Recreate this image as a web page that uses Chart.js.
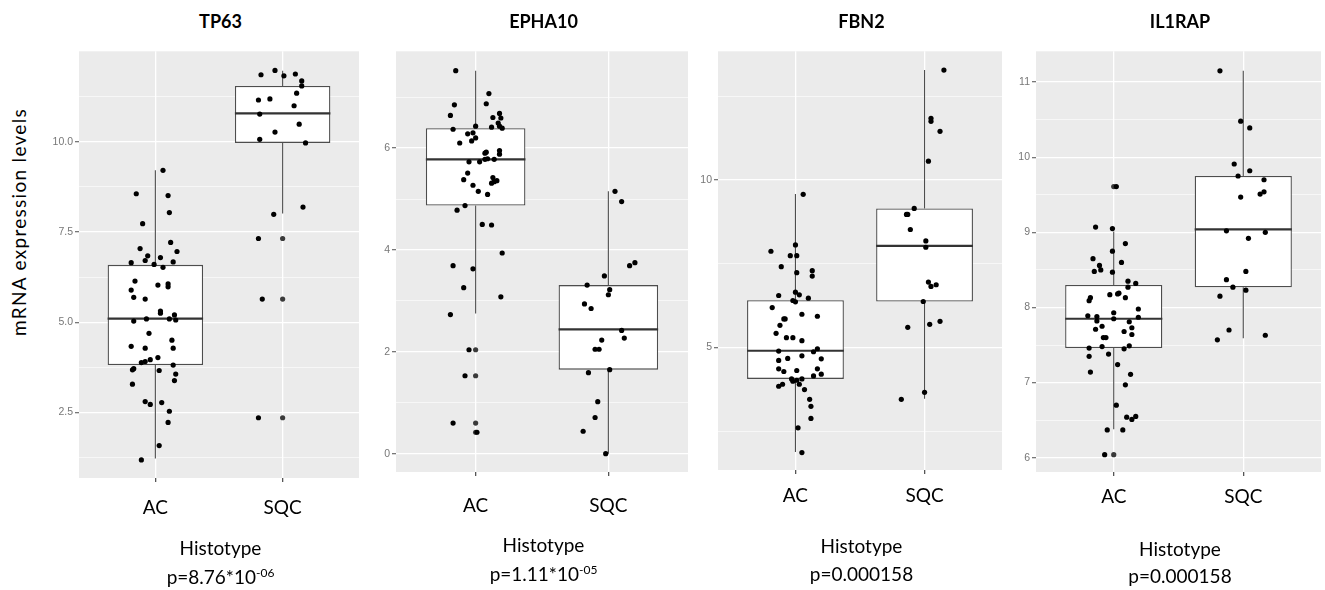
<!DOCTYPE html>
<html>
<head>
<meta charset="utf-8">
<script src="https://cdn.jsdelivr.net/npm/chart.js@4"></script>
<style>
  body { margin:0; background:#fff; width:1325px; height:590px; position:relative; overflow:hidden; font-family:Lato, "Open Sans", sans-serif; color:#000; }
  .panel { position:absolute; }
  .title { position:absolute; font-weight:bold; font-size:18px; line-height:22px; transform:translateX(-50%); white-space:nowrap; }
  .lab { position:absolute; font-size:19px; line-height:22px; transform:translateX(-50%); white-space:nowrap; }
  .lab sup { font-size:12px; vertical-align:7px; line-height:0; }
  #ytitle { position:absolute; left:18px; top:222px; font-size:19px; letter-spacing:1.3px; white-space:nowrap; transform:translate(-50%,-50%) rotate(-90deg); }
</style>
</head>
<body>
<div id="ytitle">mRNA expression levels</div>
<script>
// ---- data ----
const GENES = ['TP63', 'EPHA10', 'FBN2', 'IL1RAP'];
const CATEGORIES = ['AC', 'SQC'];
const AXIS_TITLE = 'Histotype';
const P_TEXT = ['p=8.76*10<sup>-06</sup>', 'p=1.11*10<sup>-05</sup>', 'p=0.000158', 'p=0.000158'];

// box stats per category: [lower whisker, q1, median, q3, upper whisker]
const TP63_BOX   = [[1.22, 3.81, 5.10, 6.59, 9.21], [8.01, 9.97, 10.79, 11.55, 11.97]];
const EPHA10_BOX = [[2.75, 4.87, 5.78, 6.39, 7.52], [0.00, 1.65, 2.44, 3.31, 5.15]];
const FBN2_BOX   = [[1.88, 4.06, 4.90, 6.41, 9.58], [3.47, 6.37, 8.03, 9.15, 13.28]];
const IL1RAP_BOX = [[6.38, 7.46, 7.85, 8.30, 9.01], [7.59, 8.27, 9.04, 9.75, 11.15]];

// jittered points (y values and horizontal jitter in category units)
const TP63_AC_Y = [9.21,8.56,8.51,8.04,7.73,7.21,7.04,6.96,6.84,6.79,6.71,6.67,6.65,6.60,6.52,6.14,6.03,6.06,5.98,5.89,5.69,5.64,5.31,5.25,5.20,5.09,5.09,5.03,5.06,4.69,4.50,4.33,4.28,4.28,4.02,3.96,3.91,3.88,3.81,3.71,3.68,3.66,3.56,3.38,3.28,2.80,2.72,2.77,2.53,2.22,1.58,1.18];
const TP63_AC_JIT = [0.06,-0.15,0.10,0.11,-0.10,0.12,-0.12,0.17,-0.06,0.04,-0.08,0.14,-0.19,-0.01,0.06,-0.16,0.02,0.10,0.10,-0.19,-0.17,-0.08,0.04,0.04,0.15,-0.07,0.11,-0.17,0.16,-0.05,0.13,-0.19,-0.08,0.14,0.02,-0.04,-0.08,-0.11,0.14,-0.17,-0.18,0.03,0.16,0.15,-0.18,-0.08,-0.04,0.05,0.11,0.10,0.03,-0.11];
const TP63_SQC_Y = [11.98,11.86,11.83,11.88,11.69,11.55,11.35,11.16,11.19,11.00,10.77,10.49,10.27,10.07,9.97,8.19,7.99,7.32,5.64,2.35];
const TP63_SQC_JIT = [-0.06,-0.17,0.01,0.10,0.15,0.15,0.11,-0.19,-0.10,0.09,-0.18,0.13,-0.06,-0.18,0.18,0.16,-0.07,-0.19,-0.16,-0.19];
const TP63_AC_OUT = [];
const TP63_SQC_OUT = [7.32, 5.64, 2.35];

const EPHA10_AC_Y = [7.52,7.07,6.85,6.87,6.64,6.60,6.68,6.59,6.49,6.43,6.43,6.41,6.39,6.37,6.28,6.30,6.20,6.14,6.10,5.92,5.90,5.95,5.88,5.73,5.73,5.78,5.79,5.78,5.51,5.38,5.42,5.34,5.31,5.36,5.27,5.15,5.09,4.87,4.78,4.50,4.49,3.94,3.69,3.63,3.26,3.08,2.73,2.04,1.53,0.60,0.42];
const EPHA10_AC_JIT = [-0.15,0.10,-0.16,0.08,-0.19,0.13,0.18,0.19,0.17,0.18,0.00,0.12,0.20,-0.17,-0.06,-0.02,0.00,-0.03,-0.12,0.08,0.07,0.18,0.18,-0.05,0.03,0.07,0.09,0.14,-0.06,-0.09,0.13,0.14,0.12,0.16,-0.02,0.02,0.09,-0.08,-0.14,0.05,0.12,0.20,-0.17,-0.02,-0.09,0.19,-0.19,-0.05,-0.08,-0.17,0.01];
const EPHA10_SQC_Y = [5.15,4.95,3.75,3.69,3.49,3.31,3.22,3.12,2.94,2.85,2.42,2.27,2.23,2.05,2.05,1.65,1.59,1.02,0.71,0.44,0.00];
const EPHA10_SQC_JIT = [0.05,0.10,0.20,0.16,-0.03,-0.16,0.01,0.00,-0.18,-0.13,0.10,0.12,-0.05,-0.10,-0.07,0.01,-0.15,-0.08,-0.10,-0.19,-0.02];
const EPHA10_AC_OUT = [2.04, 1.53, 0.60, 0.42];
const EPHA10_SQC_OUT = [];

const FBN2_AC_Y = [9.57,8.06,7.87,7.74,7.74,7.41,7.29,7.13,7.23,6.65,6.57,6.55,6.47,6.40,6.36,6.19,5.99,5.93,5.85,5.85,5.66,5.42,5.29,5.29,5.20,4.96,4.89,4.87,4.75,4.67,4.66,4.61,4.36,4.36,4.28,4.31,4.20,4.15,4.06,4.06,3.99,4.02,3.90,3.84,3.90,3.74,3.45,3.24,2.88,2.60,1.86];
const FBN2_AC_JIT = [0.06,0.00,-0.19,-0.04,0.01,-0.11,0.13,0.13,0.01,0.00,0.03,-0.13,0.10,-0.02,0.00,-0.18,0.05,0.17,-0.08,-0.09,-0.12,-0.15,-0.07,-0.02,0.05,0.17,-0.13,0.14,0.05,-0.06,0.20,-0.13,-0.13,0.17,-0.09,0.01,0.20,0.14,-0.03,0.05,-0.02,0.01,-0.10,-0.13,0.03,0.07,0.11,0.12,0.12,0.02,0.05];
const FBN2_SQC_Y = [13.28,11.84,11.75,11.45,10.56,9.15,8.97,8.97,8.52,8.18,7.99,6.95,6.87,6.82,6.37,5.78,5.69,5.60,3.66,3.45];
const FBN2_SQC_JIT = [0.15,0.05,0.05,0.12,0.03,-0.08,-0.14,-0.13,-0.11,0.01,0.01,0.03,0.09,0.05,-0.01,0.12,0.04,-0.13,0.00,-0.18];
const FBN2_AC_OUT = [];
const FBN2_SQC_OUT = [];

const IL1RAP_AC_Y = [9.61,9.07,9.05,8.85,8.75,8.65,8.60,8.56,8.48,8.50,8.47,8.35,8.32,8.27,8.18,8.19,8.17,8.13,8.13,8.09,7.98,7.93,7.89,7.88,7.87,7.82,7.85,7.81,7.75,7.71,7.73,7.68,7.64,7.60,7.60,7.48,7.49,7.46,7.45,7.38,7.35,7.24,7.14,7.11,6.97,6.70,6.54,6.55,6.51,6.37,6.37,6.04];
const IL1RAP_AC_JIT = [0.02,-0.14,-0.01,0.09,-0.01,-0.16,0.06,-0.11,-0.15,-0.10,-0.01,0.11,0.17,0.11,0.03,0.04,-0.03,-0.18,0.09,-0.19,0.19,0.00,-0.20,-0.13,0.19,-0.13,0.00,0.12,-0.09,-0.14,0.14,0.08,0.14,-0.08,-0.06,-0.09,0.12,-0.19,0.08,-0.04,-0.19,0.03,-0.18,0.13,0.09,0.02,0.10,0.17,0.14,-0.05,0.07,-0.07];
const IL1RAP_SQC_Y = [11.15,10.48,10.39,9.91,9.82,9.75,9.70,9.51,9.54,9.47,9.02,9.00,8.92,8.48,8.37,8.27,8.23,8.15,7.70,7.57,7.63];
const IL1RAP_SQC_JIT = [-0.18,-0.02,0.05,-0.07,0.05,-0.04,0.16,0.13,0.16,-0.02,-0.13,0.17,0.04,0.02,-0.13,-0.08,0.02,-0.18,-0.11,-0.20,0.17];
const IL1RAP_AC_OUT = [9.61, 6.04];
const IL1RAP_SQC_OUT = [];

// y axes: range, labelled ticks, tick labels, minor grid
const TP63_Y_RANGE = [0.68, 12.51];
const TP63_Y_TICKS = [2.5, 5, 7.5, 10];
const TP63_Y_LABELS = ['2.5', '5.0', '7.5', '10.0'];
const TP63_Y_MINOR = [1.25, 3.75, 6.25, 8.75, 11.25];

const EPHA10_Y_RANGE = [-0.36, 7.90];
const EPHA10_Y_TICKS = [0, 2, 4, 6];
const EPHA10_Y_LABELS = ['0', '2', '4', '6'];
const EPHA10_Y_MINOR = [1, 3, 5, 7];

const FBN2_Y_RANGE = [1.34, 13.84];
const FBN2_Y_TICKS = [5, 10];
const FBN2_Y_LABELS = ['5', '10'];
const FBN2_Y_MINOR = [2.5, 7.5, 12.5];

const IL1RAP_Y_RANGE = [5.81, 11.41];
const IL1RAP_Y_TICKS = [6, 7, 8, 9, 10, 11];
const IL1RAP_Y_LABELS = ['6', '7', '8', '9', '10', '11'];
const IL1RAP_Y_MINOR = [6.5, 7.5, 8.5, 9.5, 10.5];

// ---- layout (pixels on the page) ----
const PANEL_BOX = [
    { left: 79,   right: 362,  top: 47, bottom: 478, labelY: 507, histTop: 537, pTop: 566 },
    { left: 396,  right: 691,  top: 47, bottom: 472, labelY: 505, histTop: 534, pTop: 563 },
    { left: 718,  right: 1005, top: 47, bottom: 470, labelY: 495, histTop: 535, pTop: 563 },
    { left: 1036, right: 1324, top: 47, bottom: 472, labelY: 496, histTop: 538, pTop: 565 },
];
const BOX_WIDTH = 0.75;

const PANELS = [
    { box: TP63_BOX, ac: [TP63_AC_Y, TP63_AC_JIT], sqc: [TP63_SQC_Y, TP63_SQC_JIT], out: [TP63_AC_OUT, TP63_SQC_OUT], range: TP63_Y_RANGE, ticks: TP63_Y_TICKS, labels: TP63_Y_LABELS, minor: TP63_Y_MINOR },
    { box: EPHA10_BOX, ac: [EPHA10_AC_Y, EPHA10_AC_JIT], sqc: [EPHA10_SQC_Y, EPHA10_SQC_JIT], out: [EPHA10_AC_OUT, EPHA10_SQC_OUT], range: EPHA10_Y_RANGE, ticks: EPHA10_Y_TICKS, labels: EPHA10_Y_LABELS, minor: EPHA10_Y_MINOR },
    { box: FBN2_BOX, ac: [FBN2_AC_Y, FBN2_AC_JIT], sqc: [FBN2_SQC_Y, FBN2_SQC_JIT], out: [FBN2_AC_OUT, FBN2_SQC_OUT], range: FBN2_Y_RANGE, ticks: FBN2_Y_TICKS, labels: FBN2_Y_LABELS, minor: FBN2_Y_MINOR },
    { box: IL1RAP_BOX, ac: [IL1RAP_AC_Y, IL1RAP_AC_JIT], sqc: [IL1RAP_SQC_Y, IL1RAP_SQC_JIT], out: [IL1RAP_AC_OUT, IL1RAP_SQC_OUT], range: IL1RAP_Y_RANGE, ticks: IL1RAP_Y_TICKS, labels: IL1RAP_Y_LABELS, minor: IL1RAP_Y_MINOR },
];

// grey ggplot panel behind the grid
const panelBg = {
    id: 'panelBg',
    beforeDraw(chart) {
        const { ctx, chartArea: a } = chart;
        ctx.save(); ctx.fillStyle = '#EBEBEB';
        ctx.fillRect(a.left, a.top, a.right - a.left, a.bottom - a.top);
        ctx.restore();
    }
};

function addText(cls, html, x, y) {
    const d = document.createElement('div'); d.className = cls; d.innerHTML = html;
    d.style.left = x + 'px'; d.style.top = y + 'px'; document.body.append(d);
}

function buildPanel(i) {
    const p = PANELS[i], b = PANEL_BOX[i];
    const YW = 45, XH = 70, PADT = 4;
    const cw = b.right - b.left + YW + 1, ch = b.bottom - b.top + PADT + XH;
    const wrap = document.createElement('div'); wrap.className = 'panel';
    wrap.style.left = (b.left - YW) + 'px'; wrap.style.top = (b.top - PADT) + 'px';
    const canv = document.createElement('canvas'); canv.width = cw; canv.height = ch;
    canv.style.width = cw + 'px'; canv.style.height = ch + 'px';
    wrap.append(canv); document.body.append(wrap);

    const cx = (b.left + b.right) / 2;
    addText('title', GENES[i], cx, 10);
    addText('lab', AXIS_TITLE, cx, b.histTop);
    addText('lab', P_TEXT[i], cx, b.pTop);

    const half = BOX_WIDTH / 2;
    const boxes = [], whisk = [], med = [], outs = [], pts = [];
    p.box.forEach((s, k) => {
        const c = k + 1;
        boxes.push({ x: c, y: [s[1], s[3]] });
        whisk.push({ x: c, y: s[0] }, { x: c, y: s[1] }, { x: c, y: null }, { x: c, y: s[3] }, { x: c, y: s[4] }, { x: c, y: null });
        med.push({ x: c - half, y: s[2] }, { x: c + half, y: s[2] }, { x: c, y: null });
        p.out[k].forEach(v => outs.push({ x: c, y: v }));
    });
    [p.ac, p.sqc].forEach(([ys, js], k) => ys.forEach((v, n) => pts.push({ x: k + 1 + js[n], y: v })));

    const major = p.ticks;
    const isMajor = v => major.includes(v);
    new Chart(canv, {
        type: 'scatter',
        data: {
            datasets: [
                { type: 'scatter', data: whisk, showLine: true, borderColor: '#4d4d4d', borderWidth: 1.1, pointRadius: 0, order: 4 },
                { type: 'bar', data: boxes, backgroundColor: '#ffffff', borderColor: '#4d4d4d', borderWidth: 1.3, borderSkipped: false, grouped: false, barPercentage: BOX_WIDTH, categoryPercentage: 1, order: 3 },
                { type: 'scatter', data: med, showLine: true, borderColor: '#333333', borderWidth: 2.2, pointRadius: 0, order: 2 },
                { type: 'scatter', data: outs, pointRadius: 2.6, backgroundColor: '#3a3a3a', borderWidth: 0, order: 1 },
                { type: 'scatter', data: pts, pointRadius: 2.6, backgroundColor: '#000000', borderWidth: 0, order: 0 },
            ]
        },
        options: {
            responsive: false, animation: false, events: [],
            layout: { padding: { top: PADT, right: 1, left: 0, bottom: 0 } },
            plugins: { legend: { display: false }, tooltip: { enabled: false } },
            scales: {
                x: {
                    type: 'linear', min: 0.4, max: 2.6, offset: false,
                    afterBuildTicks(s) { s.ticks = CATEGORIES.map((c, k) => ({ value: k + 1 })); },
                    afterFit(s) { s.height = XH; },
                    ticks: { callback: v => CATEGORIES[Math.round(v) - 1], color: '#000', font: { family: 'Lato', size: 19 }, padding: b.labelY - b.bottom - 4 - 11, maxRotation: 0, autoSkip: false },
                    grid: { color: '#ffffff', lineWidth: 1.3, tickColor: '#555', tickLength: 4, offset: false },
                    border: { display: false }
                },
                y: {
                    type: 'linear', min: p.range[0], max: p.range[1],
                    afterBuildTicks(s) { s.ticks = [...major, ...p.minor].sort((a, c) => a - c).map(v => ({ value: v })); },
                    afterFit(s) { s.width = YW; },
                    ticks: { callback: v => { const k = major.indexOf(v); return k < 0 ? '' : p.labels[k]; }, color: '#777777', font: { family: 'Liberation Sans', size: 10.5 }, padding: 2, autoSkip: false },
                    grid: {
                        color: '#ffffff',
                        lineWidth: c => isMajor(c.tick.value) ? 1.3 : 0.6,
                        tickColor: c => isMajor(c.tick.value) ? '#777777' : 'rgba(0,0,0,0)',
                        tickLength: 4
                    },
                    border: { display: false }
                }
            }
        },
        plugins: [panelBg]
    });
}

Promise.all([document.fonts.load('19px Lato'), document.fonts.load('bold 18px Lato'), document.fonts.load('10px "Liberation Sans"')])
    .catch(() => {})
    .then(() => GENES.forEach((g, i) => buildPanel(i)));
</script>
</body>
</html>
